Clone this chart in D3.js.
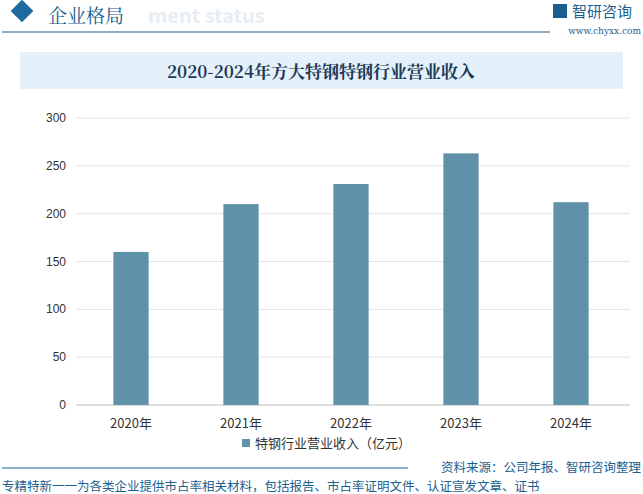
<!DOCTYPE html>
<html><head><meta charset="utf-8">
<script src="https://cdn.jsdelivr.net/npm/d3@7"></script>
<style>body{margin:0;background:#fff;font-family:"Noto Sans CJK SC",sans-serif}</style>
</head><body><div id="chart"></div>
<script>
const years = ["2020年", "2021年", "2022年", "2023年", "2024年"];
const revenue = [160, 210, 231, 263, 212];
const yTicks = [0, 50, 100, 150, 200, 250, 300];

const W = 643, H = 494;
const svg = d3.select("#chart").append("svg").attr("width", W).attr("height", H);

// header
svg.append("rect").attr("x", 14).attr("y", 3).attr("width", 16).attr("height", 16)
  .attr("transform", "rotate(45 22 11)").attr("fill", "#1e6aa0");
svg.append("text").attr("x", 148).attr("y", 23).attr("font-size", 20).attr("font-weight", "bold")
  .attr("fill", "#e6eef4").text("ment status");
svg.append("text").attr("x", 48).attr("y", 23).attr("font-size", 19).attr("fill", "#1a5f8f")
  .attr("font-family", "Noto Serif CJK SC, Noto Sans CJK SC").text("企业格局");
svg.append("line").attr("x1", 2).attr("x2", 550).attr("y1", 32).attr("y2", 32)
  .attr("stroke", "#1a5f8f").attr("stroke-width", 1.2);
svg.append("text").attr("x", 572).attr("y", 17).attr("font-size", 15).attr("fill", "#1a5f8f").text("智研咨询");
svg.append("rect").attr("x", 553).attr("y", 4).attr("width", 14).attr("height", 14).attr("fill", "#1a5f8f");
svg.append("text").attr("x", 643 - 2).attr("y", 34).attr("text-anchor", "end").attr("font-size", 9)
  .attr("fill", "#1a5f8f").attr("font-family", "DejaVu Serif").text("www.chyxx.com");

// title band
svg.append("rect").attr("x", 20).attr("y", 52).attr("width", 603).attr("height", 37).attr("fill", "#e5f1fa");
svg.append("text").attr("x", 321).attr("y", 78).attr("text-anchor", "middle").attr("font-size", 17)
  .attr("font-weight", "bold").attr("fill", "#1d3a55").attr("font-family", "Noto Serif CJK SC, Noto Sans CJK SC")
  .text("2020-2024年方大特钢特钢行业营业收入");

// plot
const x = d3.scaleBand().domain(years).range([76, 626]).paddingInner(0.68).paddingOuter(0.34);
const y = d3.scaleLinear().domain([0, 300]).range([405, 118]);

const g = svg.append("g");
g.selectAll(".grid").data(yTicks).join("line")
  .attr("x1", 76).attr("x2", 630).attr("y1", d => y(d)).attr("y2", d => y(d))
  .attr("stroke", d => d === 0 ? "#bbb" : "#e3e3e3");
g.selectAll(".yl").data(yTicks).join("text")
  .attr("x", 66).attr("y", d => y(d) + 4).attr("text-anchor", "end")
  .attr("font-size", 12).attr("fill", "#333").attr("font-family", "Liberation Sans").text(d => d);
g.selectAll(".bar").data(revenue).join("rect")
  .attr("x", (d, i) => x(years[i])).attr("width", x.bandwidth())
  .attr("y", d => y(d)).attr("height", d => y(0) - y(d)).attr("fill", "#5f91a8");
g.selectAll(".xl").data(years).join("text")
  .attr("x", d => x(d) + x.bandwidth() / 2).attr("y", 428).attr("text-anchor", "middle")
  .attr("font-size", 13).attr("fill", "#333").text(d => d);

// legend
svg.append("rect").attr("x", 242).attr("y", 439).attr("width", 8).attr("height", 8).attr("fill", "#5f91a8");
svg.append("text").attr("x", 255).attr("y", 448).attr("font-size", 13).attr("fill", "#333").text("特钢行业营业收入（亿元）");

// footer
svg.append("text").attr("x", 641).attr("y", 472).attr("text-anchor", "end").attr("font-size", 12.5)
  .attr("fill", "#1a5f8f").text("资料来源：公司年报、智研咨询整理");
svg.append("line").attr("x1", 2).attr("x2", 408).attr("y1", 468).attr("y2", 468).attr("stroke", "#1a5f8f");
svg.append("text").attr("x", 2).attr("y", 491).attr("font-size", 12.5).attr("fill", "#1a5f8f")
  .text("专精特新一一为各类企业提供市占率相关材料，包括报告、市占率证明文件、认证宣发文章、证书");
</script></body></html>
